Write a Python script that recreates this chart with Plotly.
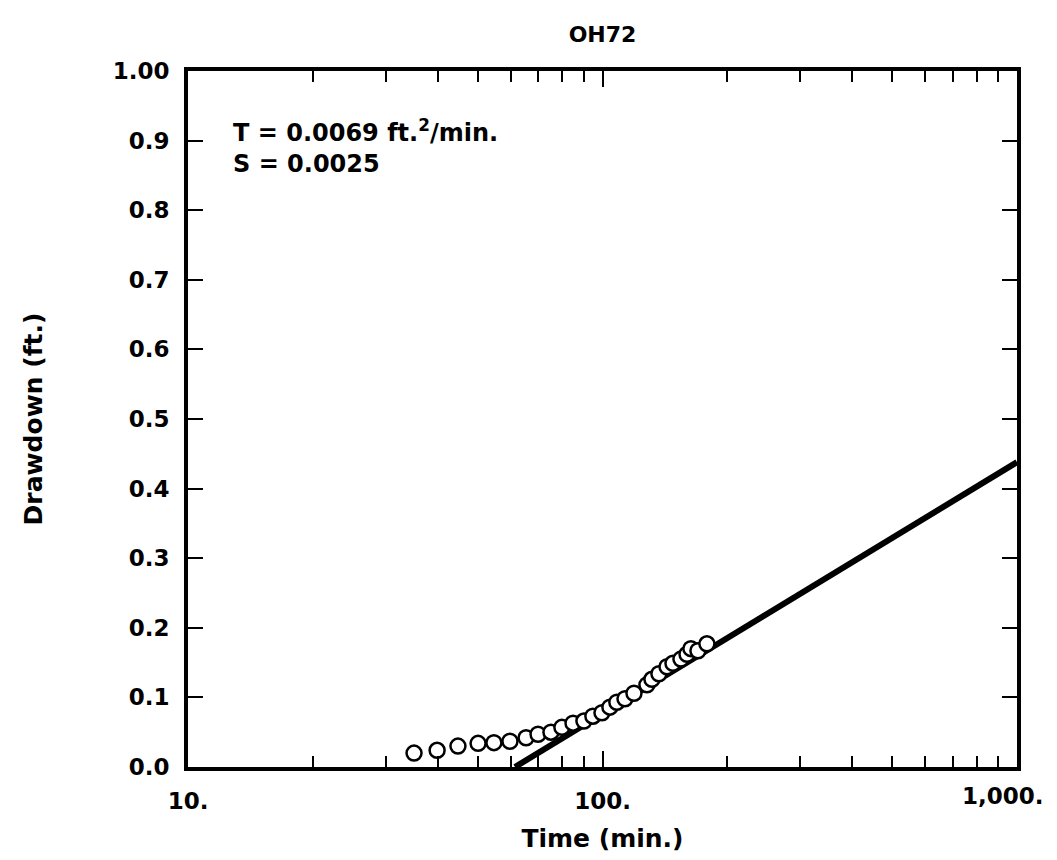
import plotly.graph_objects as go

# Observed drawdown, well OH72
time_min = [35.1, 39.9, 44.8, 50.1, 54.7, 59.8, 65.4, 69.9, 75.1, 79.8, 84.9, 90.2,
            94.8, 99.7, 104.2, 108.3, 113.3, 119.1, 128.0, 131.6, 136.8, 143.1,
            147.9, 154.6, 159.9, 163.4, 169.9, 178.6]
drawdown_ft = [0.020, 0.024, 0.030, 0.034, 0.035, 0.037, 0.042, 0.047, 0.050, 0.057,
               0.063, 0.066, 0.073, 0.078, 0.086, 0.093, 0.098, 0.106, 0.118, 0.126,
               0.134, 0.144, 0.149, 0.155, 0.162, 0.170, 0.167, 0.177]

# Straight-line (Cooper-Jacob) fit
fit_time = [61.5, 1000]
fit_drawdown = [0.0, 0.438]

x_major = [10, 100, 1000]
x_major_text = ["10.", "100.", ""]   # last label drawn as annotation so it is not cut off
x_last_label = "1,000."
x_minor = [20, 30, 40, 50, 60, 70, 80, 90, 200, 300, 400, 500, 600, 700, 800, 900]
y_tickvals = [0.0, 0.1, 0.2, 0.3, 0.4, 0.5, 0.6, 0.7, 0.8, 0.9, 1.0]
y_ticktext = ["0.0", "0.1", "0.2", "0.3", "0.4", "0.5", "0.6", "0.7", "0.8", "0.9", "1.00"]

family = "DejaVu Sans, sans-serif"
title_font = dict(family=family, size=22, color="black", weight="bold")
tick_font = dict(family=family, size=23, color="black", weight="bold")
label_font = dict(family=family, size=25, color="black", weight="bold")
note_font = dict(family=family, size=24, color="black", weight="bold")

fig = go.Figure()
fig.add_trace(go.Scatter(
    x=fit_time, y=fit_drawdown, mode="lines",
    line=dict(color="black", width=6), showlegend=False,
))
fig.add_trace(go.Scatter(
    x=time_min, y=drawdown_ft, mode="markers",
    marker=dict(symbol="circle", size=15, color="white",
                line=dict(color="black", width=2.5)),
    showlegend=False, cliponaxis=False,
))

fig.add_annotation(
    x=0.052, y=0.915, xref="paper", yref="paper", xanchor="left", yanchor="top",
    yshift=17, align="left", showarrow=False,
    text="T = 0.0069 ft.<sup>2</sup>/min.<br>S = 0.0025",
    font=note_font,
)
fig.add_annotation(
    x=1, y=0, xref="paper", yref="paper", xanchor="right", yanchor="middle",
    xshift=29, yshift=-29, showarrow=False, text=x_last_label, font=tick_font,
)

fig.update_layout(
    width=1057, height=860,
    paper_bgcolor="white", plot_bgcolor="white",
    margin=dict(l=180, r=48, t=63, b=101),
    font=tick_font,
    title=dict(text="OH72", xref="paper", x=0.5, xanchor="center",
               y=0.969, yanchor="middle", font=title_font),
    xaxis=dict(
        type="log", range=[1, 3],
        tickmode="array", tickvals=x_major, ticktext=x_major_text,
        tickfont=tick_font,
        ticks="inside", ticklen=16, tickwidth=2, tickcolor="black",
        minor=dict(tickmode="array", tickvals=x_minor, ticks="inside",
                   ticklen=11, tickwidth=2, tickcolor="black", showgrid=False),
        showline=True, linewidth=4, linecolor="black", mirror="allticks",
        showgrid=False, zeroline=False,
        title=dict(text="Time (min.)", standoff=18, font=label_font),
        ticklabelstandoff=10,
    ),
    yaxis=dict(
        range=[0, 1],
        tickmode="array", tickvals=y_tickvals, ticktext=y_ticktext,
        tickfont=tick_font,
        ticks="inside", ticklen=15, tickwidth=2, tickcolor="black",
        showline=True, linewidth=4, linecolor="black", mirror="allticks",
        showgrid=False, zeroline=False,
        title=dict(text="Drawdown (ft.)", standoff=64, font=label_font),
        ticklabelstandoff=10,
    ),
)

fig.write_html("out.html")
